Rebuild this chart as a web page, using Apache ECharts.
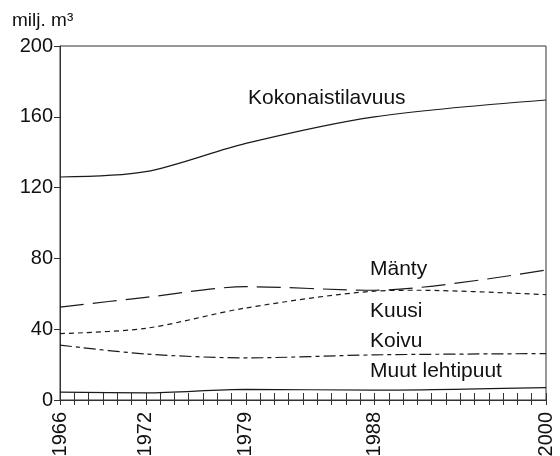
<!DOCTYPE html>
<html><head><meta charset="utf-8">
<script src="https://cdn.jsdelivr.net/npm/echarts@6/dist/echarts.min.js"></script>
<style>html,body{margin:0;padding:0;background:#fff}#c{width:560px;height:456px}</style>
</head><body><div id="c"></div>
<script>
var years = [1966, 1972, 1979, 1988, 2000];
var yearLabels = [1966, 1972, 1979, 1988, 2000];
var yTicks = [0, 40, 80, 120, 160, 200];
var kokonais = [126, 129, 145, 160, 169.5];
var manty = [52.5, 58, 64, 62, 73.5];
var kuusiYears = [1966, 1972, 1979, 1988, 1991, 2000];
var kuusi = [37.5, 40.5, 52, 61.5, 62, 59.5];
var koivu = [31, 26, 23.8, 25.5, 26.2];
var muut = [4.5, 4, 6, 5.6, 7];
var seriesNames = ['Kokonaistilavuus', 'Mänty', 'Kuusi', 'Koivu', 'Muut lehtipuut'];
var unitLabel = 'milj. m³';

function pairs(xs, vs){ return xs.map(function(x,i){ return [x, vs[i]]; }); }
var font = 'Liberation Sans, Arial, sans-serif';
var chart = echarts.init(document.getElementById('c'));
function ls(type){ return {color:'#1a1a1a', width:1.2, type:type}; }
function txt(s, left, top, size){ return {type:'text', left:left, top:top, style:{text:s, fontSize:size, fill:'#111', fontFamily:font}}; }
chart.setOption({
  animation:false,
  backgroundColor:'#fff',
  grid:{left:60, right:14, top:46, bottom:56, show:true, borderColor:'#333', borderWidth:1, backgroundColor:'transparent',
    containLabel:false, outerBoundsMode:'none'},
  xAxis:[{type:'value', min:1966, max:2000, interval:1, position:'bottom',
    axisLine:{lineStyle:{color:'#333', width:1}},
    axisTick:{inside:true, length:7, lineStyle:{color:'#333'}},
    splitLine:{show:false},
    axisLabel:{rotate:90, margin:12, fontSize:20, color:'#111', fontFamily:font,
      formatter:function(v){ return yearLabels.indexOf(v)>=0 ? String(v) : ''; }}
  },{type:'value', min:1966, max:2000, interval:1, position:'bottom', offset:0,
    axisLine:{show:false},
    axisTick:{inside:false, length:5, lineStyle:{color:'#333'}},
    splitLine:{show:false},
    axisLabel:{show:false}
  }],
  yAxis:{type:'value', min:0, max:200, interval:40,
    axisLine:{show:true, lineStyle:{color:'#333', width:1}},
    axisTick:{show:true, length:6, lineStyle:{color:'#333'}},
    splitLine:{show:false},
    axisLabel:{margin:7, fontSize:20, color:'#111', fontFamily:font,
      formatter:function(v){ return yTicks.indexOf(v)>=0 ? String(v) : ''; }}
  },
  graphic:[
    txt(unitLabel, 12, 11, 19),
    txt(seriesNames[0], 248, 88, 21),
    txt(seriesNames[1], 370, 259, 21),
    txt(seriesNames[2], 370, 301, 21),
    txt(seriesNames[3], 370, 331, 21),
    txt(seriesNames[4], 370, 361, 21)
  ],
  series:[
    {name:seriesNames[0], type:'line', smooth:0.3, showSymbol:false, data:pairs(years,kokonais), lineStyle:ls('solid')},
    {name:seriesNames[1], type:'line', smooth:0.3, showSymbol:false, data:pairs(years,manty), lineStyle:ls([24,9])},
    {name:seriesNames[2], type:'line', smooth:0.3, showSymbol:false, data:pairs(kuusiYears,kuusi), lineStyle:ls([5,4])},
    {name:seriesNames[3], type:'line', smooth:0.3, showSymbol:false, data:pairs(years,koivu), lineStyle:ls([12,4,4,4])},
    {name:seriesNames[4], type:'line', smooth:0.3, showSymbol:false, data:pairs(years,muut), lineStyle:ls('solid')}
  ]
});
</script></body></html>
